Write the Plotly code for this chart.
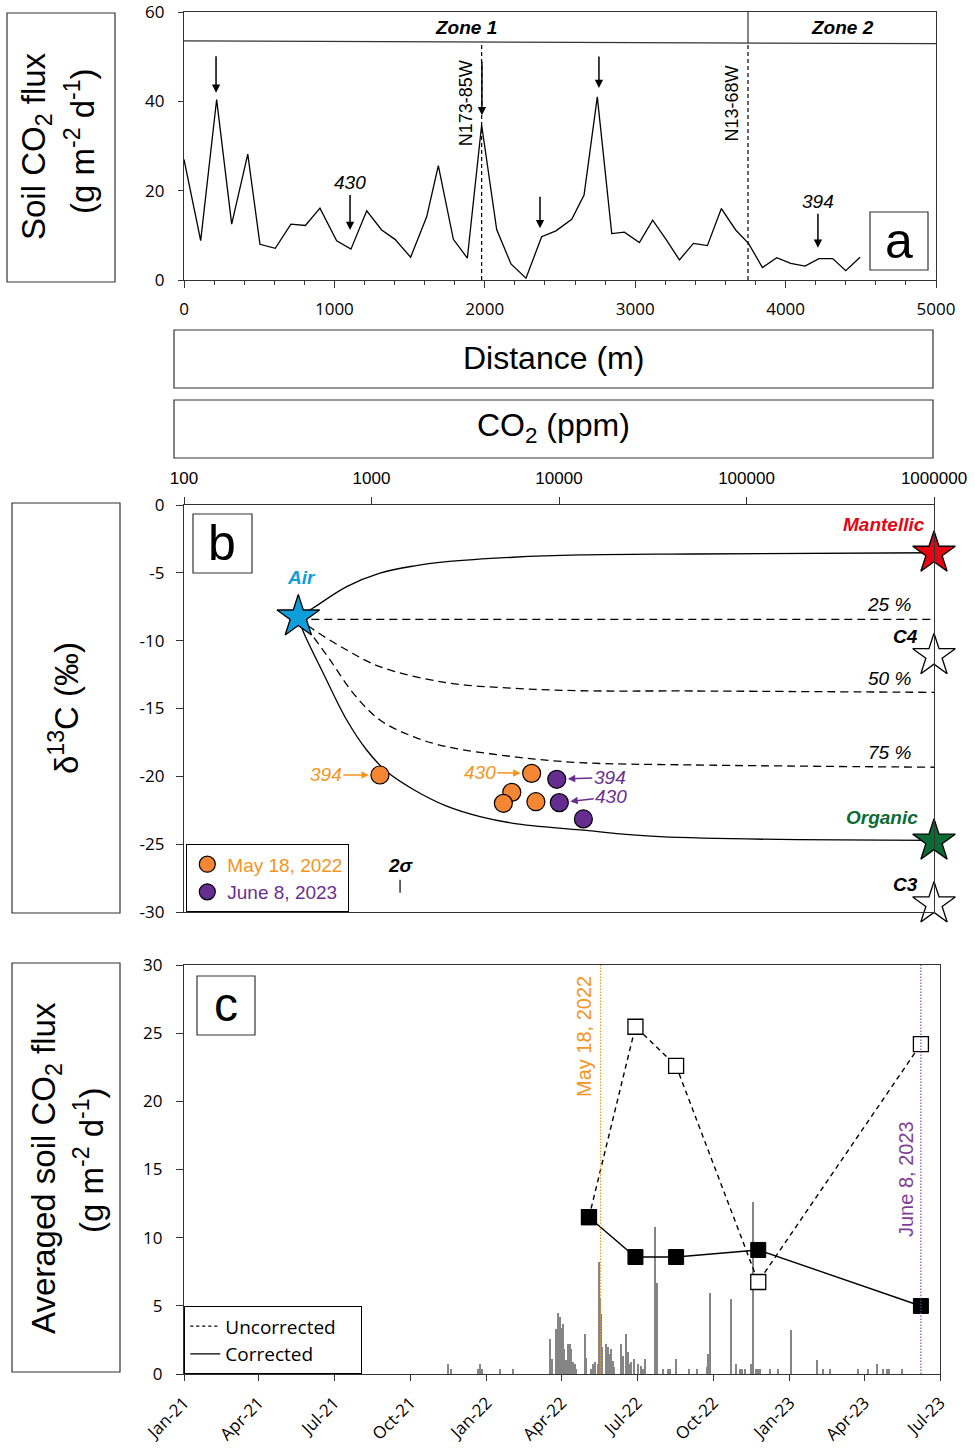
import math
import plotly.graph_objects as go

W, H = 975, 1453
def X(px): return px / W
def Y(py): return 1 - py / H

ARIAL = "Liberation Sans, Arial, sans-serif"
OPEN = "Open Sans, sans-serif"
ORANGE = "#f7941d"
ORANGE_PT = "#f58634"
PURPLE = "#6a2f8f"
PURPLE_PT = "#662d91"

# ---------------- Panel a data ----------------
dist_m = [0, 111, 217, 317, 424, 505, 607, 711, 807, 904, 1015, 1110, 1215, 1314, 1403, 1507,
          1614, 1691, 1791, 1884, 1979, 2079, 2174, 2274, 2378, 2473, 2578, 2660, 2748, 2844,
          2928, 3028, 3116, 3205, 3294, 3387, 3480, 3573, 3668, 3753, 3846, 3941, 4034, 4129,
          4222, 4313, 4400, 4495]
flux_a = [27.0, 8.8, 40.4, 12.5, 28.2, 8.0, 7.1, 12.5, 12.2, 16.1, 8.8, 6.9, 15.5, 11.2, 9.1, 5.1,
          14.2, 25.6, 9.1, 4.9, 34.7, 11.3, 3.6, 0.4, 9.7, 11.0, 13.6, 19.0, 41.0, 10.4,
          10.7, 8.4, 13.4, 9.1, 4.5, 8.2, 7.7, 16.0, 11.2, 8.2, 2.8, 5.0, 3.7, 3.1,
          4.8, 4.8, 2.1, 5.1]
zone_edges = [0, 3750, 5000]
zone_names = ["Zone 1", "Zone 2"]
fault_dist = [1979, 3750]
fault_names = ["N173-85W", "N13-68W"]
arrow_dist = [213, 1104, 1981, 2367, 2759, 4215]
arrow_tip = [41.9, 11.2, 36.9, 11.6, 43.0, 7.2]
arrow_len = [38, 47, 55, 33, 33, 46]
arrow_label = ["", "430", "", "", "", "394"]

# ---------------- Panel b data ----------------
air_ppm, air_d13c = 407, -8.25
end_names = ["Mantellic", "C4", "Organic", "C3"]
end_ppm = [1e6, 1e6, 1e6, 1e6]
end_d13c = [-3.55, -11.1, -24.77, -29.4]
end_colors = ["#e30613", "white", "#0b6b35", "white"]

mant_ppm = [407, 488, 738, 1109, 1671, 2518, 5690, 12950, 51800, 1e6]
mant_d = [-8.25, -7.59, -6.02, -5.03, -4.5, -4.18, -3.85, -3.68, -3.61, -3.52]
org_ppm = [407, 433, 553, 738, 942, 1205, 1671, 2518, 3793, 5700, 12950, 34600, 1e6]
org_d = [-8.25, -9.34, -12.4, -15.85, -18.06, -19.65, -20.97, -22.2, -22.97, -23.46, -23.95, -24.45, -24.72]
mix25_ppm = [407, 1e6]
mix25_d = [-8.43, -8.43]
mix50_ppm = [407, 480, 738, 1109, 2518, 5700, 12950, 51800, 1e6]
mix50_d = [-8.25, -9.09, -10.69, -11.92, -13.1, -13.51, -13.69, -13.71, -13.81]
mix75_ppm = [407, 460, 601, 800, 1109, 1671, 2518, 5700, 12950, 51800, 1e6]
mix75_d = [-8.25, -9.21, -11.42, -13.88, -15.85, -17.08, -17.81, -18.55, -18.99, -19.16, -19.33]
mix_labels = ["25 %", "50 %", "75 %"]

may_ppm = [1109, 7145, 5600, 5050, 7530]
may_d = [-19.9, -19.78, -21.18, -21.99, -21.87]
june_ppm = [9730, 10040, 13490]
june_d = [-20.22, -21.94, -23.14]
sigma_ppm, sigma_d, sigma_err = 1420, -28.1, 0.48

# ---------------- Panel c data ----------------
campaign_dates = ["2022-05-04", "2022-06-29", "2022-08-17", "2022-11-24", "2023-06-08"]
corrected = [11.5, 8.58, 8.58, 9.1, 4.99]
uncorrected = [11.5, 25.47, 22.6, 6.75, 24.2]
sampling_dates = ["2022-05-18", "2023-06-08"]
sampling_labels = ["May 18, 2022", "June 8, 2023"]

bar_dates = ['2021-11-15', '2021-11-19', '2021-12-21', '2021-12-24', '2021-12-26', '2022-01-17',
             '2022-02-02', '2022-03-18', '2022-03-21', '2022-03-26', '2022-03-28', '2022-03-30',
             '2022-04-01', '2022-04-03', '2022-04-04', '2022-04-07', '2022-04-09', '2022-04-11',
             '2022-04-13', '2022-04-15', '2022-04-17', '2022-04-19', '2022-04-29', '2022-05-01',
             '2022-05-07', '2022-05-09', '2022-05-11', '2022-05-15', '2022-05-16', '2022-05-18',
             '2022-05-19', '2022-05-20', '2022-05-25', '2022-05-27', '2022-05-29', '2022-05-31',
             '2022-06-02', '2022-06-04', '2022-06-12', '2022-06-14', '2022-06-18', '2022-06-20',
             '2022-06-22', '2022-06-24', '2022-06-28', '2022-07-02', '2022-07-06', '2022-07-08',
             '2022-07-11', '2022-07-23', '2022-07-25', '2022-08-01', '2022-08-08', '2022-08-10',
             '2022-08-17', '2022-09-02', '2022-09-12', '2022-09-23', '2022-09-25', '2022-09-27',
             '2022-10-22', '2022-10-28', '2022-11-02', '2022-11-05', '2022-11-08', '2022-11-15',
             '2022-11-18', '2022-11-21', '2022-11-24', '2022-11-26', '2022-12-09', '2022-12-18',
             '2023-01-03', '2023-02-03', '2023-02-10', '2023-02-19', '2023-03-24', '2023-04-06',
             '2023-04-16', '2023-04-24', '2023-04-28', '2023-05-01', '2023-05-16']
bar_flux = [0.7, 0.35, 0.35, 0.7, 0.35, 0.35, 0.35, 2.57, 1.1, 3.3, 4.45, 4.15, 3.4, 3.67, 1.8, 1.0,
            2.2, 2.2, 1.8, 0.85, 0.7, 0.37, 2.9, 1.2, 0.37, 0.7, 0.85, 0.7, 8.2, 5.6, 4.4, 2.0,
            2.2, 2.0, 1.5, 1.8, 0.97, 0.5, 2.2, 1.35, 2.9, 1.6, 0.73, 0.85, 1.1, 0.73, 0.6, 0.37,
            1.1, 10.75, 6.7, 0.37, 0.37, 0.37, 1.1, 0.37, 0.37, 0.5, 1.5, 5.94, 5.5, 0.7, 0.37,
            0.37, 0.37, 0.7, 12.6, 0.37, 0.37, 0.37, 0.37, 0.37, 3.25, 1.05, 0.37, 0.37, 0.37,
            0.37, 0.7, 0.37, 0.37, 0.37, 0.37]
quarter_ticks = ["2021-01-01", "2021-04-01", "2021-07-01", "2021-10-01", "2022-01-01", "2022-04-01",
                 "2022-07-01", "2022-10-01", "2023-01-01", "2023-04-01", "2023-07-01"]

d13c_ticks = [-30, -25, -20, -15, -10, -5, 0]

fig = go.Figure()

# ---- Panel a traces ----
fig.add_trace(go.Scatter(x=dist_m, y=flux_a, mode="lines", line=dict(color="black", width=1.3),
                         xaxis="x", yaxis="y", showlegend=False, hoverinfo="skip"))

# ---- Panel b traces ----
curve_sets = [(mant_ppm, mant_d, "solid"), (org_ppm, org_d, "solid"),
              (mix25_ppm, mix25_d, "8px,5px"), (mix50_ppm, mix50_d, "8px,5px"),
              (mix75_ppm, mix75_d, "8px,5px")]
for cx, cy, dash in curve_sets:
    fig.add_trace(go.Scatter(x=cx, y=cy, mode="lines", line=dict(color="black", width=1.3, dash=dash,
                                                                  shape="spline", smoothing=1.0),
                             xaxis="x2", yaxis="y2", showlegend=False, hoverinfo="skip"))

fig.add_trace(go.Scatter(x=[sigma_ppm], y=[sigma_d], mode="markers", marker=dict(size=1, opacity=0),
                         error_y=dict(type="data", array=[sigma_err], color="black", thickness=1.2, width=0),
                         xaxis="x2", yaxis="y2", showlegend=False, hoverinfo="skip"))

fig.add_trace(go.Scatter(x=may_ppm, y=may_d, mode="markers",
                         marker=dict(size=18, color=ORANGE_PT, line=dict(color="black", width=1.2)),
                         name=f'<span style="color:{ORANGE}">May 18, 2022</span>',
                         xaxis="x2", yaxis="y2", legend="legend"))
fig.add_trace(go.Scatter(x=june_ppm, y=june_d, mode="markers",
                         marker=dict(size=18, color=PURPLE_PT, line=dict(color="black", width=1.2)),
                         name=f'<span style="color:{PURPLE}">June 8, 2023</span>',
                         xaxis="x2", yaxis="y2", legend="legend"))

fig.add_trace(go.Scatter(x=[air_ppm], y=[air_d13c], mode="markers",
                         marker=dict(symbol="star", size=32, color="#0e9edb", line=dict(color="black", width=1.3)),
                         xaxis="x2", yaxis="y2", showlegend=False, cliponaxis=False, hoverinfo="skip"))
fig.add_trace(go.Scatter(x=end_ppm, y=end_d13c, mode="markers",
                         marker=dict(symbol="star", size=32, color=end_colors, line=dict(color="black", width=1.3)),
                         xaxis="x2", yaxis="y2", showlegend=False, cliponaxis=False, hoverinfo="skip"))

# ---- Panel c traces ----
fig.add_trace(go.Bar(x=bar_dates, y=bar_flux, width=1.8 * 86400000, marker=dict(color="#858585", line=dict(width=0)),
                     xaxis="x3", yaxis="y3", showlegend=False, hoverinfo="skip"))
fig.add_trace(go.Scatter(x=campaign_dates, y=uncorrected, mode="lines+markers",
                         line=dict(color="black", width=1.4, dash="5px,4px"),
                         marker=dict(symbol="square", size=15, color="white", line=dict(color="black", width=1.3)),
                         xaxis="x3", yaxis="y3", showlegend=False, cliponaxis=False))
fig.add_trace(go.Scatter(x=campaign_dates, y=corrected, mode="lines+markers",
                         line=dict(color="black", width=1.4),
                         marker=dict(symbol="square", size=15, color="black", line=dict(color="black", width=1)),
                         xaxis="x3", yaxis="y3", showlegend=False, cliponaxis=False))
fig.add_trace(go.Scatter(x=[None], y=[None], mode="lines", line=dict(color="black", width=1.2, dash="3px,3px"),
                         name="Uncorrected&nbsp;&nbsp;&nbsp;&nbsp;", xaxis="x3", yaxis="y3", legend="legend2"))
fig.add_trace(go.Scatter(x=[None], y=[None], mode="lines", line=dict(color="black", width=1.4),
                         name="Corrected", xaxis="x3", yaxis="y3", legend="legend2"))

# ---------------- Shapes ----------------
shapes = []
def box(x0, y0, x1, y1, w=1.2):
    shapes.append(dict(type="rect", xref="paper", yref="paper", x0=X(x0), y0=Y(y1), x1=X(x1), y1=Y(y0),
                       line=dict(color="#333333", width=w), fillcolor="rgba(0,0,0,0)"))

box(7, 13, 115, 282)
box(174, 330, 933, 388)
box(174, 400, 933, 458)
box(12, 503, 120, 913)
box(12, 963, 120, 1372)
box(870, 212, 928, 270)
box(193, 514, 252, 573)
box(197, 976, 255, 1035)

# zone header line and separator
shapes.append(dict(type="line", xref="x", yref="y", x0=zone_edges[0], x1=zone_edges[-1], y0=53.55, y1=52.9,
                   line=dict(color="#333333", width=1.2)))
shapes.append(dict(type="line", xref="x", yref="y", x0=zone_edges[1], x1=zone_edges[1], y0=53.0, y1=60,
                   line=dict(color="#333333", width=1.2)))
for fd in fault_dist:
    shapes.append(dict(type="line", xref="x", yref="y", x0=fd, x1=fd, y0=0, y1=53.2,
                       line=dict(color="black", width=1.2, dash="4px,3px")))
# sampling day lines in panel c
for sd, col in zip(sampling_dates, [ORANGE, "#7f3f98"]):
    shapes.append(dict(type="line", xref="x3", yref="y3", x0=sd, x1=sd, y0=0, y1=30,
                       line=dict(color=col, width=1.1, dash="1.5px,1.5px"), layer="above"))

# ---------------- Annotations ----------------
ann = []
def txt(px, py, text, size, color="black", family=ARIAL, angle=0, xanchor="center", yanchor="middle"):
    ann.append(dict(x=X(px), y=Y(py), xref="paper", yref="paper", text=text, showarrow=False,
                    font=dict(family=family, size=size, color=color), textangle=angle,
                    xanchor=xanchor, yanchor=yanchor))

# axis title boxes
txt(36, 146, "Soil CO<sub>2</sub> flux", 33, angle=-90)
txt(80, 141, "(g m<sup>-2</sup> d<sup>-1</sup>)", 33, angle=-90)
txt(553, 358, "Distance (m)", 32)
txt(553, 428, "CO<sub>2</sub> (ppm)", 32)
txt(64, 708, "δ<sup>13</sup>C (‰)", 33, angle=-90)
txt(46, 1168, "Averaged soil CO<sub>2</sub> flux", 33, angle=-90)
txt(89, 1160, "(g m<sup>-2</sup> d<sup>-1</sup>)", 33, angle=-90)

# panel letters
txt(899, 241, "a", 50)
txt(222, 543, "b", 50)
txt(226, 1004, "c", 48)

# zones
for i, zn in enumerate(zone_names):
    xc = (zone_edges[i] + zone_edges[i + 1]) / 2
    ann.append(dict(x=xc, y=56.6, xref="x", yref="y", text=f"<b><i>{zn}</i></b>", showarrow=False,
                    font=dict(family=ARIAL, size=19, color="black")))
# fault names
for fd, fn in zip(fault_dist, fault_names):
    ann.append(dict(x=fd, y=39.5, xref="x", yref="y", text=fn, showarrow=False, textangle=-90,
                    xshift=-16, font=dict(family=ARIAL, size=18, color="black")))
# arrows in panel a
for d, tip, ln, lab in zip(arrow_dist, arrow_tip, arrow_len, arrow_label):
    ann.append(dict(x=d, y=tip, xref="x", yref="y", ax=0, ay=-ln, text=f"<i>{lab}</i>" if lab else "",
                    showarrow=True, arrowhead=2, arrowsize=1.1, arrowwidth=1.5, arrowcolor="black",
                    font=dict(family=ARIAL, size=19, color="black")))

# panel b labels
txt(301, 577, "<b><i>Air</i></b>", 19, color="#0e9edb")
txt(927, 525, "<b><i>Mantellic</i></b>", 19, color="#e30613", xanchor="right")
txt(920, 636, "<b><i>C4</i></b>", 19, xanchor="right")
txt(920, 817, "<b><i>Organic</i></b>", 19, color="#0b6b35", xanchor="right")
txt(920, 884, "<b><i>C3</i></b>", 19, xanchor="right")
for lab, py in zip(mix_labels, [604, 678, 752]):
    txt(913, py, f"<i>{lab}</i>", 19, xanchor="right")
txt(401, 866, "<b><i>2σ</i></b>", 19)

# sample labels with arrows
pt_labels = [(may_ppm[0], may_d[0], "394", ORANGE, -54, 0),
             (may_ppm[1], may_d[1], "430", ORANGE, -52, -1),
             (june_ppm[0], june_d[0], "394", PURPLE, 53, -2),
             (june_ppm[1], june_d[1], "430", PURPLE, 52, -6)]
for px_, py_, lab, col, ax_, ay_ in pt_labels:
    ann.append(dict(x=math.log10(px_), y=py_, xref="x2", yref="y2", ax=ax_, ay=ay_, text=f"<i>{lab}</i>",
                    showarrow=True, arrowhead=2, arrowsize=1.0, arrowwidth=1.5, arrowcolor=col, standoff=11,
                    font=dict(family=ARIAL, size=19, color=col)))

# panel c sampling labels
txt(584, 1037, sampling_labels[0], 20, color=ORANGE, angle=-90)
txt(906, 1179, sampling_labels[1], 20, color="#7f3f98", angle=-90)

common = dict(ticks="outside", tickcolor="#333", showline=True, mirror=True,
              linecolor="#333", linewidth=1.2, showgrid=False, zeroline=False,
              ticklabeloverflow="allow")

fig.update_layout(
    width=W, height=H, margin=dict(l=0, r=0, t=0, b=0),
    paper_bgcolor="white", plot_bgcolor="white", template="none",
    font=dict(family=OPEN, size=16, color="black"),
    shapes=shapes, annotations=ann,
    xaxis=dict(domain=[X(184), X(936)], anchor="y", range=[0, 5000], tickvals=[0, 1000, 2000, 3000, 4000, 5000],
               ticklen=7, ticklabelstandoff=6,
               minor=dict(dtick=200, ticks="outside", ticklen=4, tickcolor="#333", showgrid=False),
               tickfont=dict(family=OPEN, size=17), **common),
    yaxis=dict(domain=[Y(280), Y(12)], anchor="x", range=[0, 60], tickvals=[0, 20, 40, 60],
               ticklen=5, ticklabelstandoff=10, tickfont=dict(family=OPEN, size=17), **common),
    xaxis2=dict(domain=[X(184), X(934)], anchor="y2", type="log", range=[2, 6], side="top",
                tickvals=[100, 1000, 10000, 100000, 1000000],
                ticktext=["100", "1000", "10000", "100000", "1000000"],
                ticklen=7, ticklabelstandoff=6, tickfont=dict(family=ARIAL, size=17), **common),
    yaxis2=dict(domain=[Y(912), Y(505)], anchor="x2", range=[-30, 0],
                tickvals=d13c_ticks, ticktext=[str(v) for v in d13c_ticks],
                ticklen=7, ticklabelstandoff=8, tickfont=dict(family=OPEN, size=17), **common),
    xaxis3=dict(domain=[X(184), X(940)], anchor="y3", type="date", range=["2021-01-01", "2023-07-01"],
                tickvals=quarter_ticks, tickformat="%b-%y", tickangle=-45,
                ticklen=6, ticklabelstandoff=5, tickfont=dict(family=OPEN, size=17), **common),
    yaxis3=dict(domain=[Y(1374), Y(965)], anchor="x3", range=[0, 30], dtick=5,
                ticklen=7, ticklabelstandoff=10, tickfont=dict(family=OPEN, size=17), **common),
    legend=dict(x=X(186), y=Y(912), xanchor="left", yanchor="bottom", bordercolor="black", borderwidth=1.3,
                bgcolor="white", font=dict(family=ARIAL, size=19), tracegroupgap=0),
    legend2=dict(x=X(184), y=Y(1374), xanchor="left", yanchor="bottom", bordercolor="black", borderwidth=1.3,
                 bgcolor="white", font=dict(family=OPEN, size=19), tracegroupgap=0),
    bargap=0,
)

fig.write_html("out.html", config={"displayModeBar": False},
               post_script="document.body.style.margin='0';document.documentElement.style.margin='0';"
                           "document.body.style.overflow='hidden';")
